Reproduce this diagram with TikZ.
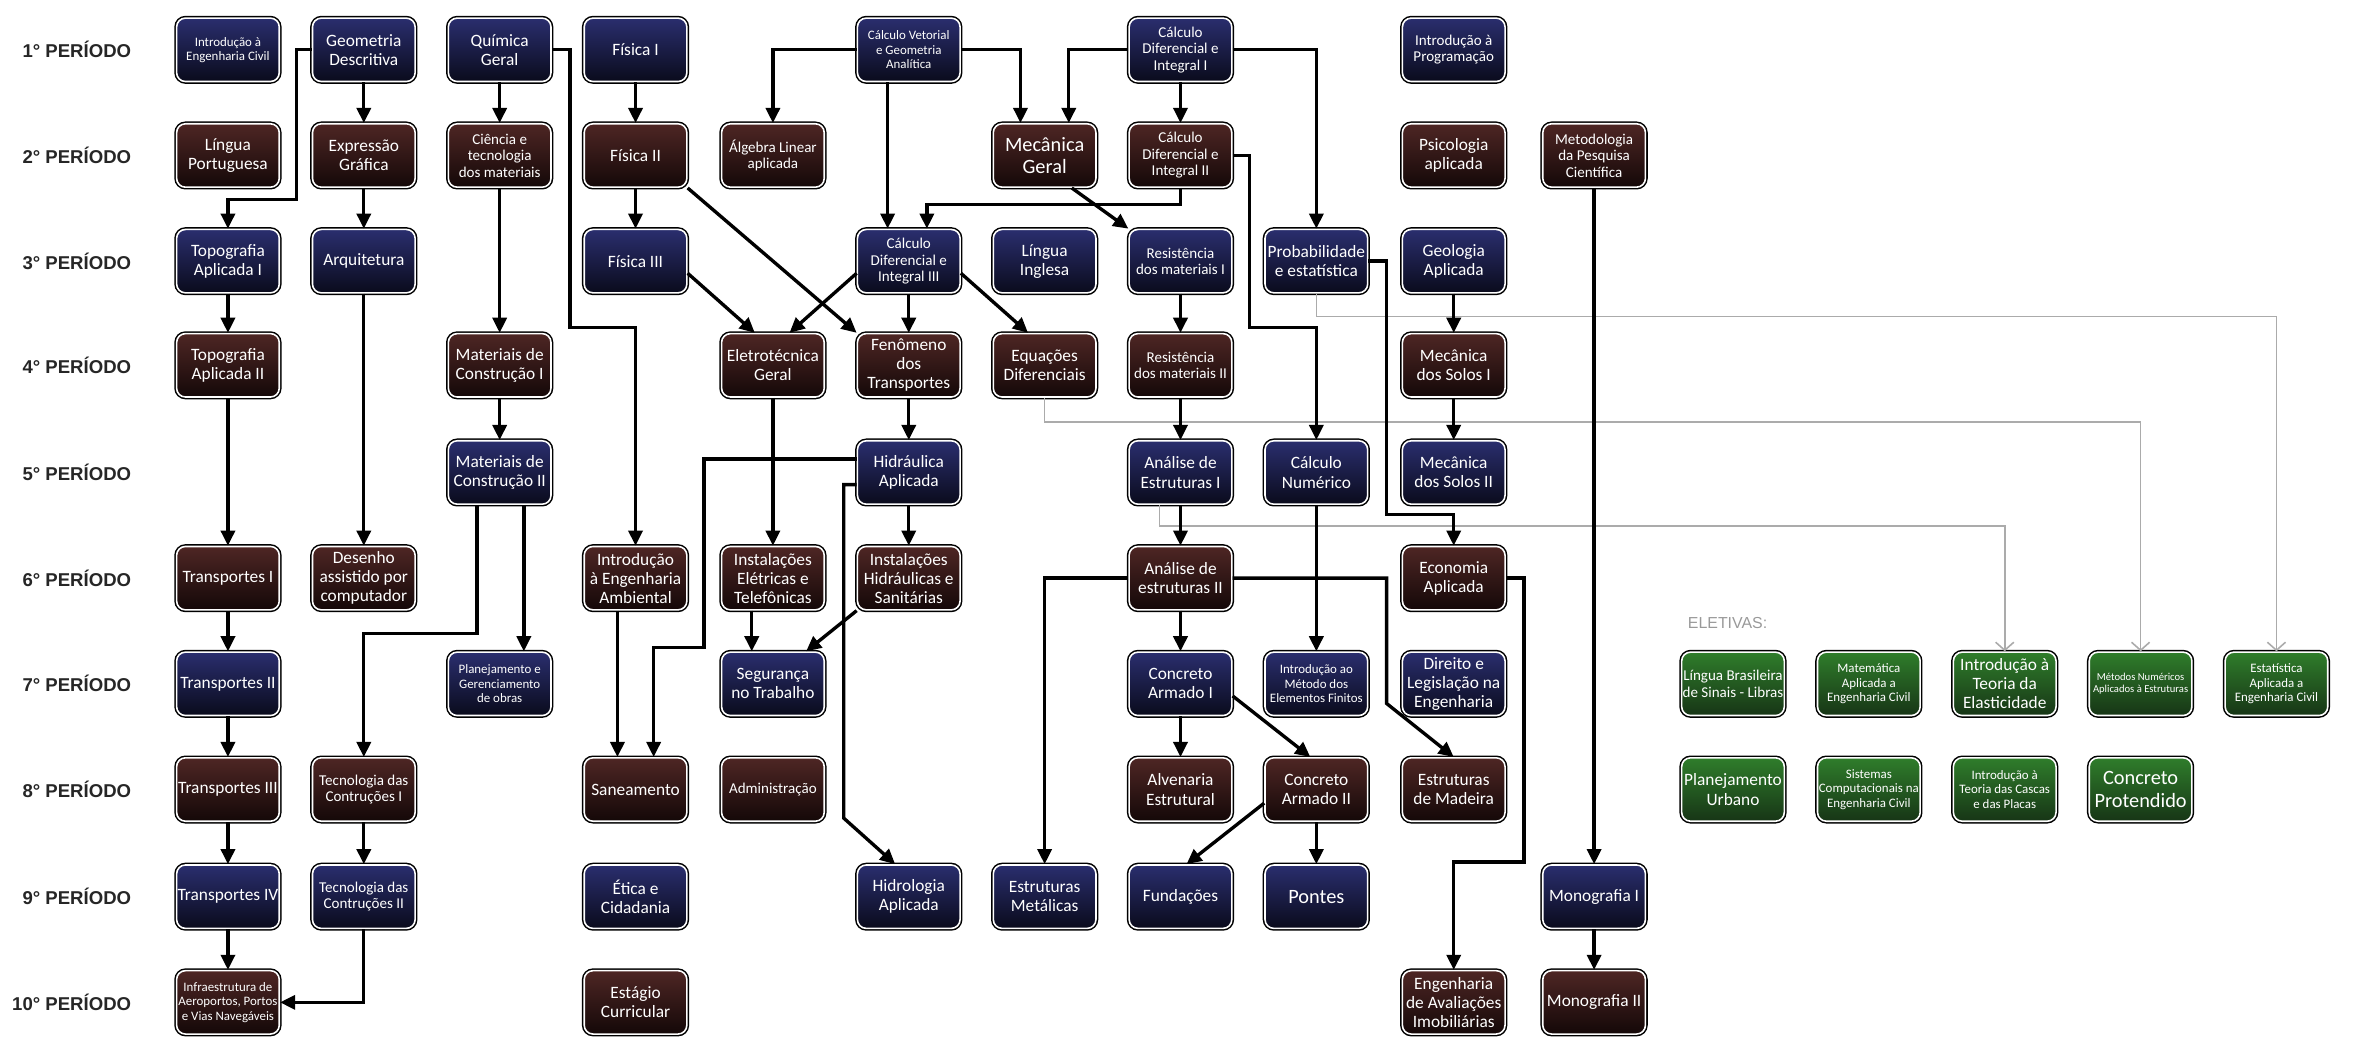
\documentclass[tikz,border=0pt]{standalone}
\usepackage{fontspec}
\usetikzlibrary{arrows.meta}

\newfontfamily\boxfont{Carlito}
\newfontfamily\perfont{Liberation Sans}

\definecolor{azulA}{HTML}{2A2E6E}
\definecolor{azulB}{HTML}{0A0B1C}
\definecolor{marromA}{HTML}{4E2624}
\definecolor{marromB}{HTML}{140808}
\definecolor{verdeA}{HTML}{2F7D2B}
\definecolor{verdeB}{HTML}{173516}

\tikzset{
  disc/.style={rectangle, rounded corners=5pt, draw=white, line width=0.9pt,
    preaction={draw=black, line width=2.6pt},
    minimum width=2.04cm, minimum height=1.26cm, inner sep=0.5pt,
    align=center, text=white, font=\boxfont\fontsize{9.8}{10.8}\selectfont},
  azul/.style={disc, top color=azulA, bottom color=azulB},
  marrom/.style={disc, top color=marromA, bottom color=marromB},
  verde/.style={disc, top color=verdeA, bottom color=verdeB},
  fbig/.style={font=\boxfont\fontsize{11.5}{12.5}\selectfont},
  fmid/.style={font=\boxfont\fontsize{8.5}{9.3}\selectfont},
  fsmall/.style={font=\boxfont\fontsize{7.3}{8.1}\selectfont},
  ftiny/.style={font=\boxfont\fontsize{6}{6.7}\selectfont},
  periodo/.style={anchor=east, font=\perfont\bfseries\fontsize{10.5}{12}\selectfont, text=black!85},
  seta/.style={-{Triangle[length=0.3cm,width=0.28cm]}, line width=1.9pt},
  opc/.style={-{Straight Barb[length=0.16cm,width=0.36cm]}, line width=0.9pt, draw=black!33},
}

\begin{document}
\begin{tikzpicture}[x=0.03cm, y=-0.03cm]
    \useasboundingbox (0,0) rectangle (1568,704);

    \node[periodo] (p1) at (91,33) {1° PERÍODO};
    \node[periodo] (p2) at (91,103) {2° PERÍODO};
    \node[periodo] (p3) at (91,173) {3° PERÍODO};
    \node[periodo] (p4) at (91,242) {4° PERÍODO};
    \node[periodo] (p5) at (91,313) {5° PERÍODO};
    \node[periodo] (p6) at (91,383) {6° PERÍODO};
    \node[periodo] (p7) at (91,453) {7° PERÍODO};
    \node[periodo] (p8) at (91,523) {8° PERÍODO};
    \node[periodo] (p9) at (91,594) {9° PERÍODO};
    \node[periodo] (p10) at (91,664) {10° PERÍODO};

    \node[azul, fsmall] (intro) at (151,33) {Introdução à\\Engenharia Civil};
    \node[azul] (geo) at (241,33) {Geometria\\Descritiva};
    \node[azul] (quim) at (331,33) {Química\\Geral};
    \node[azul] (fis1) at (421,33) {Física I};
    \node[azul, fsmall] (calcvet) at (602,33) {Cálculo Vetorial\\e Geometria\\Analítica};
    \node[azul, fmid] (calc1) at (782,33) {Cálculo\\Diferencial e\\Integral I};
    \node[azul, fmid] (prog) at (963,33) {Introdução à\\Programação};

    \node[marrom] (port) at (151,103) {Língua\\Portuguesa};
    \node[marrom] (expr) at (241,103) {Expressão\\Gráfica};
    \node[marrom, fmid] (ctm) at (331,103) {Ciência e\\tecnologia\\dos materiais};
    \node[marrom] (fis2) at (421,103) {Física II};
    \node[marrom, fmid] (alg) at (512,103) {Álgebra Linear\\aplicada};
    \node[marrom, fbig] (mec) at (692,103) {Mecânica\\Geral};
    \node[marrom, fmid] (calc2) at (782,103) {Cálculo\\Diferencial e\\Integral II};
    \node[marrom] (psico) at (963,103) {Psicologia\\aplicada};
    \node[marrom, fmid] (metod) at (1056,103) {Metodologia\\da Pesquisa\\Científica};

    \node[azul] (topo1) at (151,173) {Topografia\\Aplicada I};
    \node[azul] (arq) at (241,173) {Arquitetura};
    \node[azul] (fis3) at (421,173) {Física III};
    \node[azul, fmid] (calc3) at (602,173) {Cálculo\\Diferencial e\\Integral III};
    \node[azul] (ingl) at (692,173) {Língua\\Inglesa};
    \node[azul, fmid] (res1) at (782,173) {Resistência\\dos materiais I};
    \node[azul] (prob) at (872,173) {Probabilidade\\e estatística};
    \node[azul] (geol) at (963,173) {Geologia\\Aplicada};

    \node[marrom] (topo2) at (151,242) {Topografia\\Aplicada II};
    \node[marrom] (mat1) at (331,242) {Materiais de\\Construção I};
    \node[marrom] (eletro) at (512,242) {Eletrotécnica\\Geral};
    \node[marrom] (fen) at (602,242) {Fenômeno\\dos\\Transportes};
    \node[marrom] (eqdif) at (692,242) {Equações\\Diferenciais};
    \node[marrom, fmid] (res2) at (782,242) {Resistência\\dos materiais II};
    \node[marrom] (solos1) at (963,242) {Mecânica\\dos Solos I};

    \node[azul] (mat2) at (331,313) {Materiais de\\Construção II};
    \node[azul] (hidr) at (602,313) {Hidráulica\\Aplicada};
    \node[azul] (ae1) at (782,313) {Análise de\\Estruturas I};
    \node[azul] (calcnum) at (872,313) {Cálculo\\Numérico};
    \node[azul] (solos2) at (963,313) {Mecânica\\dos Solos II};

    \node[marrom] (transp1) at (151,383) {Transportes I};
    \node[marrom] (cad) at (241,383) {Desenho\\assistido por\\computador};
    \node[marrom] (amb) at (421,383) {Introdução\\à Engenharia\\Ambiental};
    \node[marrom] (inselet) at (512,383) {Instalações\\Elétricas e\\Telefônicas};
    \node[marrom] (inshid) at (602,383) {Instalações\\Hidráulicas e\\Sanitárias};
    \node[marrom] (ae2) at (782,383) {Análise de\\estruturas II};
    \node[marrom] (econ) at (963,383) {Economia\\Aplicada};

    \node[azul] (transp2) at (151,453) {Transportes II};
    \node[azul, fsmall] (plan) at (331,453) {Planejamento e\\Gerenciamento\\de obras};
    \node[azul] (seg) at (512,453) {Segurança\\no Trabalho};
    \node[azul] (ca1) at (782,453) {Concreto\\Armado I};
    \node[azul, fsmall] (mef) at (872,453) {Introdução ao\\Método dos\\Elementos Finitos};
    \node[azul] (dir) at (963,453) {Direito e\\Legislação na\\Engenharia};

    \node[marrom] (transp3) at (151,523) {Transportes III};
    \node[marrom, fmid] (tec1) at (241,523) {Tecnologia das\\Contruções I};
    \node[marrom] (san) at (421,523) {Saneamento};
    \node[marrom, fmid] (adm) at (512,523) {Administração};
    \node[marrom] (alv) at (782,523) {Alvenaria\\Estrutural};
    \node[marrom] (ca2) at (872,523) {Concreto\\Armado II};
    \node[marrom] (madeira) at (963,523) {Estruturas\\de Madeira};

    \node[azul] (transp4) at (151,594) {Transportes IV};
    \node[azul, fmid] (tec2) at (241,594) {Tecnologia das\\Contruções II};
    \node[azul] (etica) at (421,594) {Ética e\\Cidadania};
    \node[azul] (hidro) at (602,594) {Hidrologia\\Aplicada};
    \node[azul] (metal) at (692,594) {Estruturas\\Metálicas};
    \node[azul] (fund) at (782,594) {Fundações};
    \node[azul, fbig] (pontes) at (872,594) {Pontes};
    \node[azul] (mono1) at (1056,594) {Monografia I};

    \node[marrom, fsmall] (infra) at (151,664) {Infraestrutura de\\Aeroportos, Portos\\e Vias Navegáveis};
    \node[marrom] (estagio) at (421,664) {Estágio\\Curricular};
    \node[marrom] (aval) at (963,664) {Engenharia\\de Avaliações\\Imobiliárias};
    \node[marrom] (mono2) at (1056,664) {Monografia II};

    \node[anchor=west, font=\perfont\fontsize{9}{10}\selectfont, text=black!40] (eletivas) at (1114,413) {ELETIVAS:};
    \node[verde, fmid] (e1) at (1148,453) {Língua Brasileira\\de Sinais - Libras};
    \node[verde, fsmall] (e2) at (1238,453) {Matemática\\Aplicada a\\Engenharia Civil};
    \node[verde] (e3) at (1328,453) {Introdução à\\Teoria da\\Elasticidade};
    \node[verde, ftiny] (e4) at (1418,453) {Métodos Numéricos\\Aplicados à Estruturas};
    \node[verde, fsmall] (e5) at (1508,453) {Estatística\\Aplicada a\\Engenharia Civil};
    \node[verde] (e6) at (1148,523) {Planejamento\\Urbano};
    \node[verde, fsmall] (e7) at (1238,523) {Sistemas\\Computacionais na\\Engenharia Civil};
    \node[verde, fsmall] (e8) at (1328,523) {Introdução à\\Teoria das Cascas\\e das Placas};
    \node[verde, fbig] (e9) at (1418,523) {Concreto\\Protendido};

    \draw[opc] (prob.south) -- ++(0,15) -| (e5.north);
    \draw[opc] (eqdif.south) -- ++(0,16) -| (e4.north);
    \draw[opc] ([xshift=-0.42cm]ae1.south) -- ++(0,14) -| (e3.north);

    \draw[seta] (geo.west) -- ++(-10,0) -- ++(0,99) -| (topo1.north);
    \draw[seta] (geo) -- (expr);
    \draw[seta] (expr) -- (arq);
    \draw[seta] (arq) -- (cad);
    \draw[seta] (quim) -- (ctm);
    \draw[seta] (quim.east) -- ++(12,0) -- ++(0,184) -| (amb.north);
    \draw[seta] (ctm) -- (mat1);
    \draw[seta] (mat1) -- (mat2);
    \draw[seta] ([xshift=0.48cm]mat2.south) -- ([xshift=0.48cm]plan.north);
    \draw[seta] ([xshift=-0.45cm]mat2.south) -- ++(0,85) -| (tec1.north);
    \draw[seta] (fis1) -- (fis2);
    \draw[seta] (fis2) -- (fis3);
    \draw[seta] (fis2.south east) -- (fen.north west);
    \draw[seta] ([yshift=-0.24cm]fis3.east) -- ([xshift=-0.36cm]eletro.north);
    \draw[seta] (calcvet.west) -| (alg.north);
    \draw[seta] (calcvet.east) -| ([xshift=-0.48cm]mec.north);
    \draw[seta] ([xshift=-0.42cm]calcvet.south) -- ([xshift=-0.42cm]calc3.north);
    \draw[seta] (calc1.west) -| ([xshift=0.48cm]mec.north);
    \draw[seta] (calc1) -- (calc2);
    \draw[seta] (calc1.east) -| (prob.north);
    \draw[seta] (calc2.south) -- ++(0,11) -| ([xshift=0.36cm]calc3.north);
    \draw[seta] (calc2.east) -- ++(11,0) -- ++(0,114) -| (calcnum.north);
    \draw[seta] ([xshift=0.54cm]mec.south) -- (res1.north west);
    \draw[seta] ([yshift=-0.24cm]calc3.west) -- ([xshift=0.33cm]eletro.north);
    \draw[seta] (calc3) -- (fen);
    \draw[seta] ([yshift=-0.24cm]calc3.east) -- ([xshift=-0.33cm]eqdif.north);
    \draw[seta] (res1) -- (res2);
    \draw[seta] (prob.east) -- ++(12,0) -- ++(0,168) -| (econ.north);
    \draw[seta] (geol) -- (solos1);
    \draw[seta] (solos1) -- (solos2);
    \draw[seta] (metod) -- (mono1);
    \draw[seta] (mono1) -- (mono2);
    \draw[seta] (topo1) -- (topo2);
    \draw[seta] (topo2) -- (transp1);
    \draw[seta] (transp1) -- (transp2);
    \draw[seta] (transp2) -- (transp3);
    \draw[seta] (transp3) -- (transp4);
    \draw[seta] (transp4) -- (infra);
    \draw[seta] (tec1) -- (tec2);
    \draw[seta] (tec2.south) |- (infra.east);
    \draw[seta] (eletro) -- (inselet);
    \draw[seta] (fen) -- (hidr);
    \draw[seta] (hidr) -- (inshid);
    \draw[seta] ([yshift=0.27cm]hidr.west) -- ++(-101,0) -- ++(0,125) -| ([xshift=0.36cm]san.north);
    \draw[seta] ([yshift=-0.24cm]hidr.west) -- ++(-8.5,0) -- ++(0,221) -- ([xshift=-0.27cm]hidro.north);
    \draw[seta] ([xshift=-0.36cm]amb.south) -- ([xshift=-0.36cm]san.north);
    \draw[seta] ([xshift=-0.42cm]inselet.south) -- ([xshift=-0.42cm]seg.north);
    \draw[seta] (inshid.south west) -- ([xshift=0.66cm]seg.north);
    \draw[seta] (res2) -- (ae1);
    \draw[seta] (ae1) -- (ae2);
    \draw[seta] (ae2) -- (ca1);
    \draw[seta] (ae2.west) -| (metal.north);
    \draw[seta] (ae2.east) -- ++(102,0) -- ++(0,83) -- (madeira.north);
    \draw[seta] (calcnum) -- (mef);
    \draw[seta] (ca1) -- (alv);
    \draw[seta] ([yshift=-0.24cm]ca1.east) -- ([xshift=-0.12cm]ca2.north);
    \draw[seta] ([yshift=-0.27cm]ca2.west) -- ([xshift=0.12cm]fund.north);
    \draw[seta] (ca2) -- (pontes);
    \draw[seta] (econ.east) -- ++(12,0) -- ++(0,188) -| (aval.north);
\end{tikzpicture}
\end{document}
